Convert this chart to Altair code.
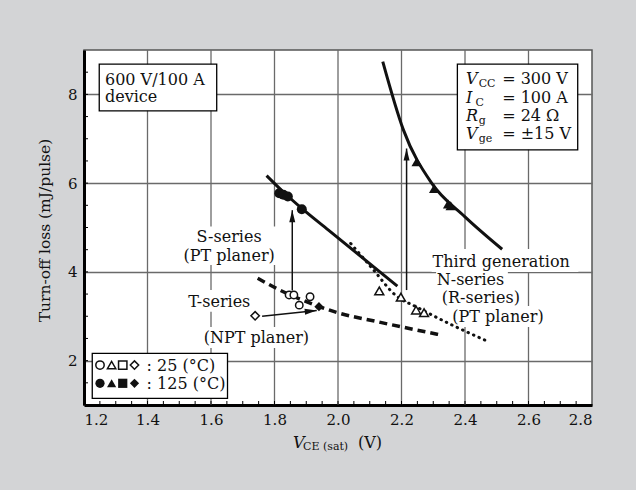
import altair as alt
import pandas as pd

FONT = "DejaVu Serif"
INK = "#111111"

# ---- curves (V, mJ/pulse) ----
s_x = [1.775, 1.828, 1.886, 1.970, 2.187]
s_y = [6.17, 5.80, 5.43, 4.94, 3.68]
t_x = [1.747, 1.817, 1.94, 1.999, 2.122, 2.316]
t_y = [3.855, 3.59, 3.22, 3.08, 2.88, 2.59]
r_x = [2.040, 2.11, 2.18, 2.25, 2.36, 2.473]
r_y = [4.64, 4.06, 3.48, 3.20, 2.80, 2.43]
n_x = [2.141, 2.206, 2.295, 2.40, 2.517]
n_y = [8.74, 7.20, 6.0, 5.24, 4.51]

# ---- markers ----
fc_x = [1.815, 1.828, 1.842, 1.886]
fc_y = [5.77, 5.74, 5.70, 5.41]
oc_x = [1.846, 1.861, 1.878, 1.912]
oc_y = [3.48, 3.48, 3.25, 3.44]
od_x = [1.739]
od_y = [3.01]
fd_x = [1.940]
fd_y = [3.215]
ot_x = [2.130, 2.198, 2.246, 2.271]
ot_y = [3.57, 3.43, 3.14, 3.08]
ft_x = [2.248, 2.303, 2.347, 2.355]
ft_y = [6.48, 5.88, 5.53, 5.49]

# ---- arrows ----
varrow_x = [1.856, 2.216]
varrow_y0 = [3.58, 3.59]
varrow_y1 = [5.39, 6.78]
darrow = dict(x=[1.761], y=[3.0], x2=[1.933], y2=[3.13])
head_x = [1.856, 2.216, 1.933]
head_y = [5.39, 6.78, 3.13]
head_a = [0, 0, 84]

# ---- ticks / grid ----
x_labels = [1.2, 1.4, 1.6, 1.8, 2.0, 2.2, 2.4, 2.6, 2.8]
x_grid = [1.4, 1.6, 1.8, 2.0, 2.2, 2.4, 2.6]
y_labels = [2, 4, 6, 8]
x_minor = [round(1.25 + 0.05 * i, 2) for i in range(31)]
y_minor = [1.5 + 0.5 * i for i in range(15)]

xs = alt.Scale(domain=[1.2, 2.8], nice=False, zero=False)
ys = alt.Scale(domain=[1, 9], nice=False, zero=False)

AX = alt.Axis(values=x_labels, format=".1f", grid=False,
              ticks=False, domainColor="black", domainWidth=3, labelFont=FONT, labelFontSize=15,
              labelColor=INK, labelPadding=7, title="")
AY = alt.Axis(values=y_labels, grid=True, gridColor="#6a6a6a", gridWidth=1.3,
              ticks=False, domainColor="black", domainWidth=3, labelFont=FONT, labelFontSize=15,
              labelColor=INK, labelPadding=7, title="Turn-off loss  (mJ/pulse)",
              titleFont=FONT, titleFontSize=15.5, titleFontWeight="normal", titleColor=INK,
              titleX=-40, titleY=180, titleAlign="center", titleBaseline="middle",
              titleAngle=270)


def X(f="x"):
    return alt.X(f, type="quantitative", scale=xs, axis=AX)


def Y(f="y"):
    return alt.Y(f, type="quantitative", scale=ys, axis=AY)


def df(**kw):
    return pd.DataFrame(kw)


# axes layer
axes = alt.Chart(df(x=[1.2], y=[1])).mark_point(opacity=0).encode(x=X(), y=Y())

vgrid = alt.Chart(df(x=x_grid)).mark_rule(color="#6a6a6a", strokeWidth=1.3).encode(x=X())

xt = alt.Chart(df(x=x_minor)).mark_rule(color="black", strokeWidth=1).encode(
    x=X(), y=alt.value(355), y2=alt.value(351))
yt = alt.Chart(df(y=y_minor)).mark_rule(color="black", strokeWidth=1).encode(
    y=Y(), x=alt.value(0), x2=alt.value(4))

# white knock-out rectangles behind labels
ko = df(x=[1.496, 1.518, 1.556, 2.295, 2.309, 2.324, 2.356],
        x2=[1.814, 1.735, 1.931, 2.757, 2.535, 2.589, 2.677],
        y=[5.02, 3.59, 2.76, 4.515, 4.04, 3.64, 3.23],
        y2=[4.155, 3.10, 2.285, 4.0, 3.59, 3.16, 2.76])
knock = alt.Chart(ko).mark_rect(fill="white").encode(
    x=X(), x2="x2", y=Y(), y2="y2")

# boxes
bx = df(x=[1.248, 2.376, 1.226], x2=[1.618, 2.755, 1.652],
        y=[7.63, 6.75, 1.15], y2=[8.68, 8.68, 2.165])
boxes = alt.Chart(bx).mark_rect(fill="white", stroke="black", strokeWidth=1.3).encode(
    x=X(), x2="x2", y=Y(), y2="y2")


def line(xv, yv, **kw):
    return alt.Chart(df(x=xv, y=yv)).mark_line(interpolate="monotone", color=INK, **kw).encode(
        x=X(), y=Y(), order="x:Q")


s_line = line(s_x, s_y, strokeWidth=3)
n_line = line(n_x, n_y, strokeWidth=3)
t_line = line(t_x, t_y, strokeWidth=3.5, strokeDash=[8, 5])
r_line = line(r_x, r_y, strokeWidth=3, strokeDash=[0.5, 5.5], strokeCap="round")

varrows = alt.Chart(df(x=varrow_x, y=varrow_y0, y2=varrow_y1)).mark_rule(
    color=INK, strokeWidth=1.5).encode(x=X(), y=Y(), y2="y2")
darrows = alt.Chart(pd.DataFrame(darrow)).mark_rule(color=INK, strokeWidth=1.5).encode(
    x=X(), y=Y(), x2="x2", y2="y2")
heads = alt.Chart(df(x=head_x, y=head_y, a=head_a)).mark_point(
    shape="M0,0L0.5,2L-0.5,2Z", filled=True, color=INK, size=144, opacity=1).encode(
    x=X(), y=Y(), angle=alt.Angle("a:Q", scale=None))


def pts(xv, yv, shape, size, filled):
    if filled:
        m = alt.Chart(df(x=xv, y=yv)).mark_point(shape=shape, size=size, filled=True,
                                                  color=INK, opacity=1)
    else:
        m = alt.Chart(df(x=xv, y=yv)).mark_point(shape=shape, size=size, filled=True,
                                                  fill="white", stroke=INK, strokeWidth=1.5,
                                                  opacity=1, fillOpacity=1)
    return m.encode(x=X(), y=Y())


markers = [
    pts(fc_x, fc_y, "circle", 100, True),
    pts(oc_x, oc_y, "circle", 55, False),
    pts(od_x, od_y, "diamond", 70, False),
    pts(fd_x, fd_y, "diamond", 85, True),
    pts(ot_x, ot_y, "triangle-up", 80, False),
    pts(ft_x, ft_y, "triangle-up", 110, True),
]

# legend symbols
lg_x = [1.2504, 1.287, 1.322, 1.359]
lg_shapes = ["circle", "triangle-up", "square", "diamond"]
leg = []
for xv, sh in zip(lg_x, lg_shapes):
    leg.append(pts([xv], [1.90], sh, 70, False))
    leg.append(pts([xv], [1.489], sh, 85, True))


def text(rows, size=16, align="left", style="normal"):
    d = pd.DataFrame(rows, columns=["x", "y", "t"])
    return alt.Chart(d).mark_text(font=FONT, fontSize=size, align=align, baseline="alphabetic",
                                  fontStyle=style, color=INK).encode(
        x=X(), y=Y(), text="t:N")


labels_c = text([
    (1.657, 4.68, "S-series"),
    (1.657, 4.245, "(PT planer)"),
    (1.626, 3.215, "T-series"),
    (1.743, 2.39, "(NPT planer)"),
], align="center")

labels_l = text([
    (2.298, 4.117, "Third generation"),
    (2.311, 3.70, "N-series"),
    (2.327, 3.29, "(R-series)"),
    (2.36, 2.877, "(PT planer)"),
    (1.266, 8.21, "600 V/100 A"),
    (1.266, 7.82, "device"),
    (2.517, 8.227, "= 300 V"),
    (2.517, 7.81, "= 100 A"),
    (2.517, 7.40, "= 24 Ω"),
    (2.517, 6.995, "= ±15 V"),
    (1.397, 1.777, ": 25 (°C)"),
    (1.397, 1.36, ": 125 (°C)"),
])

sym_it = text([
    (2.403, 8.227, "V"),
    (2.403, 7.81, "I"),
    (2.403, 7.40, "R"),
    (2.403, 6.995, "V"),
], style="italic")
subs = text([
    (2.443, 8.16, "CC"),
    (2.433, 7.745, "C"),
    (2.443, 7.33, "g"),
    (2.443, 6.93, "ge"),
], size=11)

# x-axis title pieces (pixel positions in plot frame)
xt_v = alt.Chart(df(t=["V"])).mark_text(font=FONT, fontSize=16, fontStyle="italic",
                                       align="left", baseline="alphabetic", color=INK).encode(
    x=alt.value(209), y=alt.value(398), text="t:N")
xt_s = alt.Chart(df(t=["CE (sat)"])).mark_text(font=FONT, fontSize=11, align="left",
                                              baseline="alphabetic", color=INK).encode(
    x=alt.value(219), y=alt.value(400), text="t:N")
xt_u = alt.Chart(df(t=["(V)"])).mark_text(font=FONT, fontSize=16, align="left",
                                         baseline="alphabetic", color=INK).encode(
    x=alt.value(274), y=alt.value(398), text="t:N")

chart = alt.layer(
    axes, vgrid, knock, xt, yt, t_line, r_line, s_line, n_line,
    varrows, darrows, heads, *markers, boxes, *leg,
    labels_c, labels_l, sym_it, subs, xt_v, xt_s, xt_u,
).properties(
    width=508, height=355,
    padding={"left": 84, "top": 50, "right": 44, "bottom": 85},
    autosize=alt.AutoSizeParams(type="none"),
).configure(
    background="#d3d4d6",
).configure_view(
    fill="white", stroke="#555555", strokeWidth=1.5,
)

chart.save("out.html", embed_options={"renderer": "svg", "actions": False})
